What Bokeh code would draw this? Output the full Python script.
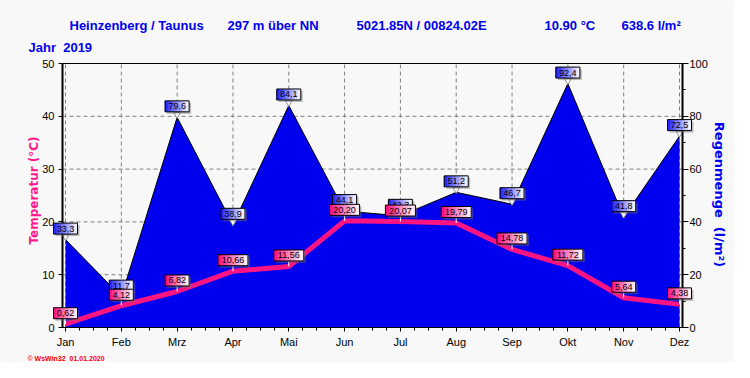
import numpy as np
from bokeh.plotting import figure
from bokeh.models import Range1d, LinearAxis, Label, FixedTicker
from bokeh.core.properties import value
from bokeh.embed import file_html
from bokeh.resources import INLINE

# ---------------- data ----------------
months = ["Jan", "Feb", "Mrz", "Apr", "Mai", "Jun", "Jul", "Aug", "Sep", "Okt", "Nov", "Dez"]
temperature = [0.62, 4.12, 6.82, 10.66, 11.56, 20.20, 20.07, 19.79, 14.78, 11.72, 5.64, 4.38]
rain = [33.3, 11.7, 79.6, 38.9, 84.1, 44.1, 42.3, 51.2, 46.7, 92.4, 41.8, 72.5]
temp_ticks = [0, 10, 20, 30, 40, 50]
temp_grid = [10, 20, 30, 40]
rain_ticks = [0, 20, 40, 60, 80, 100]
rain_minor = [10, 30, 50, 70, 90]
header = ["Heinzenberg / Taunus", "297 m über NN", "5021.85N / 00824.02E", "10.90 °C", "638.6 l/m²"]
year_text = "Jahr\u00a0 2019"
temp_title = "Temperatur (°C)"
rain_title = "Regenmenge\u00a0 (l/m²)"
credit = "© WsWin32\u00a0 01.01.2020"

# ---------------- layout (pixels) ----------------
W, H = 734, 362            # whole figure = plotting frame
LEFT, RIGHT, TOP, BOTTOM = 62, 682, 63, 327   # visible chart box
EDGE = 3                   # gap between box edge and first/last month
MONTH_PX = (RIGHT - LEFT - 2 * EDGE) / 11
X0 = LEFT + EDGE
T_PX = (BOTTOM - TOP) / 50.0   # px per degree
R_PX = (BOTTOM - TOP) / 100.0  # px per l/m2
X_PAD = EDGE / MONTH_PX
XMIN, XMAX = -X_PAD, 11 + X_PAD
BG = "#f8f8f8"
BLUE_TXT = "#0000f0"
PINK = "#ff1a8c"

xs = list(range(len(months)))

p = figure(frame_width=W, frame_height=H,
           min_border_left=0, min_border_right=0, min_border_top=0, min_border_bottom=0,
           x_range=Range1d(-X0 / MONTH_PX, (W - X0) / MONTH_PX),
           y_range=Range1d(-(H - BOTTOM) / T_PX, BOTTOM / T_PX),
           output_backend="svg", toolbar_location=None,
           background_fill_color=BG, border_fill_color=BG, outline_line_color=None)
p.extra_y_ranges = {"rain": Range1d(-(H - BOTTOM) / R_PX, BOTTOM / R_PX)}
raxis = LinearAxis(y_range_name="rain")
p.add_layout(raxis, "right")
p.grid.visible = False

# axes, fixed at the box edges
xax, lax = p.xaxis[0], p.yaxis[0]
xax.fixed_location = 0
xax.bounds = (XMIN, XMAX)
lax.fixed_location = XMIN
lax.bounds = (0, 50)
raxis.fixed_location = XMAX
raxis.bounds = (0, 100)
xax.ticker = FixedTicker(ticks=xs, minor_ticks=[i / 4 for i in range(45)])
xax.major_label_overrides = {i: m for i, m in enumerate(months)}
lax.ticker = FixedTicker(ticks=temp_ticks, minor_ticks=[])
raxis.ticker = FixedTicker(ticks=rain_ticks, minor_ticks=rain_minor)
for ax in [xax, lax, raxis]:
    ax.axis_line_color = "black"
    ax.major_tick_line_color = "black"
    ax.minor_tick_line_color = "black"
    ax.major_tick_in = 0
    ax.minor_tick_in = 0
    ax.major_label_text_font = "Liberation Sans"
    ax.major_label_text_font_size = "11px"
    ax.major_label_text_color = "black"
xax.major_tick_out = 4
xax.minor_tick_out = 3
xax.major_label_standoff = 4
lax.axis_line_width = 2
lax.major_tick_out = 4
lax.major_label_standoff = 4
raxis.axis_line_width = 2
raxis.major_tick_out = 6
raxis.minor_tick_out = 3
raxis.major_label_standoff = 1

# dashed grid + top border
p.segment(x0=xs, y0=0, x1=xs, y1=50, line_color="#808080", line_dash="4 3", line_width=1)
p.segment(x0=XMIN, y0=temp_grid, x1=XMAX, y1=temp_grid, line_color="#808080",
          line_dash="4 3", line_width=1)
p.segment(x0=[XMIN], y0=[50], x1=[XMAX], y1=[50], line_color="black", line_width=1)

# rain area + temperature line
p.varea(x=xs, y1=0, y2=rain, fill_color="#0000ee", y_range_name="rain")
p.line(xs, rain, line_color="black", line_width=1, y_range_name="rain")
p.line(xs, temperature, line_color="#ff1482", line_width=5)

# pointers
p.segment(x0=xs, y0=temperature, x1=xs, y1=[t + 6 / T_PX for t in temperature],
          line_color="white", line_width=1)
p.scatter(xs, [r + 3 / R_PX for r in rain], marker="inverted_triangle", size=7,
          fill_color="white", line_color="#909090", line_width=1, y_range_name="rain")

# value labels (boxes with a left-to-right colour gradient), drawn above the axes
OFF = 11     # px between value point and label centre
BOX_H = 11
N_STRIPS = 8

def label_width(s):
    return int(round(sum(5.0 if c.isdigit() else 2.5 for c in s) + 7))

def mix(a, b, f):
    return "#%02x%02x%02x" % tuple(int(round(a[i] + (b[i] - a[i]) * f)) for i in range(3))

def add_labels(lx, ly, texts, px_per_unit, rname, c_left, c_right):
    kw = {"level": "overlay"}
    if rname is not None:
        kw["y_range_name"] = rname
    widths = [label_width(t) for t in texts]
    cy = [v + OFF / px_per_unit for v in ly]
    # shadow
    p.rect(x=[v + 2 / MONTH_PX for v in lx], y=[v - 2 / px_per_unit for v in cy],
           width=widths, height=BOX_H, width_units="screen", height_units="screen",
           fill_color="#707070", fill_alpha=0.45, line_color=None, **kw)
    # gradient strips
    sx, sy, sw, sc = [], [], [], []
    for xv, yv, w in zip(lx, cy, widths):
        step = w / N_STRIPS
        for k in range(N_STRIPS):
            sx.append(xv + (-w / 2 + (k + 0.5) * step) / MONTH_PX)
            sy.append(yv)
            sw.append(step + 0.8)
            sc.append(mix(c_left, c_right, k / (N_STRIPS - 1)))
    p.rect(x=sx, y=sy, width=sw, height=BOX_H, width_units="screen", height_units="screen",
           fill_color=sc, line_color=None, **kw)
    # border
    p.rect(x=lx, y=cy, width=widths, height=BOX_H, width_units="screen", height_units="screen",
           fill_color=None, line_color="black", line_width=1, **kw)
    # text
    p.text(x=lx, y=cy, text=texts, text_font=value("Liberation Sans"), text_font_size="9px",
           text_color="black", text_align="center", text_baseline="middle", **kw)

rain_txt = [f"{v:.1f}".replace(".", ",") for v in rain]
temp_txt = [f"{v:.2f}".replace(".", ",") for v in temperature]
add_labels(xs, rain, rain_txt, R_PX, "rain", (40, 40, 255), (238, 238, 255))
add_labels(xs, temperature, temp_txt, T_PX, None, (255, 20, 128), (255, 236, 246))

# header and titles (screen units, origin at bottom-left of figure)
hx = [69, 227, 356, 544, 621]
for t, x0 in zip(header, hx):
    p.add_layout(Label(x=x0, y=H - 25, x_units="screen", y_units="screen", text=t,
                       text_font="Liberation Sans", text_font_size="13px", text_font_style="bold",
                       text_color=BLUE_TXT, text_baseline="middle"))
p.add_layout(Label(x=28, y=H - 47, x_units="screen", y_units="screen", text=year_text,
                   text_font="Liberation Sans", text_font_size="13px", text_font_style="bold",
                   text_color=BLUE_TXT, text_baseline="middle"))
p.add_layout(Label(x=33, y=H - 190, x_units="screen", y_units="screen", text=temp_title,
                   angle=np.pi / 2, text_font="DejaVu Sans", text_font_size="12px",
                   text_font_style="bold", text_color=PINK,
                   text_align="center", text_baseline="middle"))
p.add_layout(Label(x=719, y=H - 194, x_units="screen", y_units="screen", text=rain_title,
                   angle=-np.pi / 2, text_font="DejaVu Sans", text_font_size="13px",
                   text_font_style="bold", text_color=BLUE_TXT,
                   text_align="center", text_baseline="middle"))
p.add_layout(Label(x=27, y=H - 358, x_units="screen", y_units="screen", text=credit,
                   text_font="Liberation Sans", text_font_size="7px", text_font_style="bold",
                   text_color="#ff0000", text_baseline="middle"))

open("out.html", "w").write(file_html(p, INLINE))
